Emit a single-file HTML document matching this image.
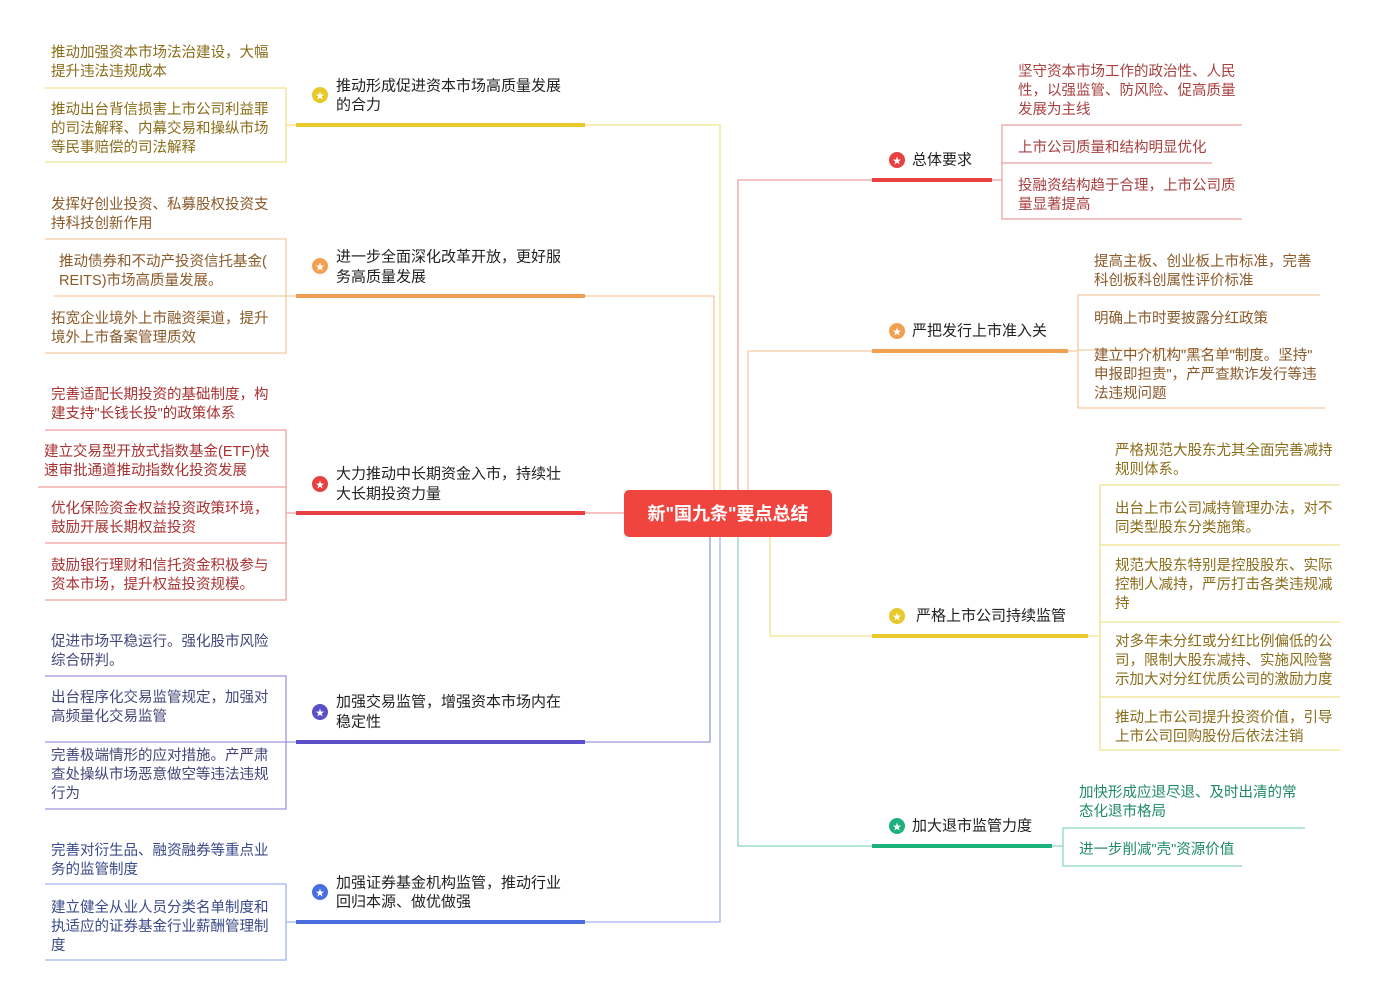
<!DOCTYPE html>
<html><head><meta charset="utf-8"><style>
html,body{margin:0;padding:0;background:#fff;}
svg{display:block;font-family:"Liberation Sans","Noto Sans CJK SC",sans-serif;}
text{dominant-baseline:central;}
.l{font-size:14.5px;}
.b{font-size:15px;fill:#222;}
</style></head><body>
<svg width="1379" height="1001" viewBox="0 0 1379 1001" xmlns="http://www.w3.org/2000/svg">
<rect width="1379" height="1001" fill="#fff"/>
<g fill="none" stroke-width="1.3">
<!-- left connectors -->
<path d="M585 125H720V490" stroke="#efe38a"/>
<path d="M585 296H714V490" stroke="#f3c9a0"/>
<path d="M585 513H624" stroke="#f0a0a0"/>
<path d="M585 742H710V537" stroke="#9a96d8"/>
<path d="M585 922H720V537" stroke="#a0b4ee"/>
<!-- right connectors -->
<path d="M738 490V180H872" stroke="#f0a0a0"/>
<path d="M748 490V351H872" stroke="#f3c9a0"/>
<path d="M770 537V636H872" stroke="#efe38a"/>
<path d="M738 537V846H872" stroke="#8ad8c0"/>
<!-- left brackets -->
<g stroke="#efe38a"><path d="M45 88H286V162H45M286 125H296"/></g>
<g stroke="#f3c9a0"><path d="M45 239H286V353H45M54 296H296"/></g>
<g stroke="#eda0a0"><path d="M45 430H286V600H45M38 487H286M45 543H286M286 513H296"/></g>
<g stroke="#9a96d8"><path d="M45 676H286V809H45M45 742H296"/></g>
<g stroke="#a0b4ee"><path d="M45 884H286V960H45M286 922H296"/></g>
<!-- right brackets -->
<g stroke="#eda0a0"><path d="M1242 125H1002V219H1242M1002 163H1212M992 180H1002"/></g>
<g stroke="#f3c9a0"><path d="M1320 295H1078V408H1325M1078 350H1258M1068 351H1078"/></g>
<g stroke="#efe38a"><path d="M1340 485H1100V750H1340M1100 545H1340M1100 622H1340M1100 697H1340M1088 636H1100"/></g>
<g stroke="#8ad8c0"><path d="M1305 828H1063V866H1242M1052 846H1063"/></g>
</g>
<!-- underlines -->
<g stroke-width="4">
<line x1="296" y1="125" x2="585" y2="125" stroke="#e8c82a"/>
<line x1="296" y1="296" x2="585" y2="296" stroke="#f0a050"/>
<line x1="296" y1="513" x2="585" y2="513" stroke="#e84040"/>
<line x1="296" y1="742" x2="585" y2="742" stroke="#5a4fc8"/>
<line x1="296" y1="922" x2="585" y2="922" stroke="#4a6ee0"/>
<line x1="872" y1="180" x2="992" y2="180" stroke="#e84040"/>
<line x1="872" y1="351" x2="1068" y2="351" stroke="#f0a050"/>
<line x1="872" y1="636" x2="1088" y2="636" stroke="#e8c82a"/>
<line x1="872" y1="846" x2="1052" y2="846" stroke="#1cb07a"/>
</g>
<!-- center -->
<rect x="624" y="490" width="208" height="47" rx="5" fill="#f0443e"/>
<text x="728" y="514" text-anchor="middle" fill="#fff" font-size="18" font-weight="bold">新"国九条"要点总结</text>
<!-- icons -->
<g font-size="9" fill="#fff" text-anchor="middle">
<circle cx="320" cy="95" r="8" fill="#e8c82a"/><text x="320" y="96">★</text>
<circle cx="320" cy="266" r="8" fill="#f0a050"/><text x="320" y="267">★</text>
<circle cx="320" cy="484" r="8" fill="#e84040"/><text x="320" y="485">★</text>
<circle cx="320" cy="712" r="8" fill="#5a4fc8"/><text x="320" y="713">★</text>
<circle cx="320" cy="892" r="8" fill="#4a6ee0"/><text x="320" y="893">★</text>
<circle cx="897" cy="160" r="8" fill="#e84040"/><text x="897" y="161">★</text>
<circle cx="897" cy="331" r="8" fill="#f0a050"/><text x="897" y="332">★</text>
<circle cx="897" cy="616" r="8" fill="#e8c82a"/><text x="897" y="617">★</text>
<circle cx="897" cy="826" r="8" fill="#1cb07a"/><text x="897" y="827">★</text>
</g>
<!-- branch labels -->
<g class="b">
<text x="336" y="86">推动形成促进资本市场高质量发展</text><text x="336" y="105">的合力</text>
<text x="336" y="257">进一步全面深化改革开放，更好服</text><text x="336" y="277">务高质量发展</text>
<text x="336" y="474">大力推动中长期资金入市，持续壮</text><text x="336" y="494">大长期投资力量</text>
<text x="336" y="702">加强交易监管，增强资本市场内在</text><text x="336" y="722">稳定性</text>
<text x="336" y="883">加强证券基金机构监管，推动行业</text><text x="336" y="902">回归本源、做优做强</text>
<text x="912" y="160">总体要求</text>
<text x="912" y="331">严把发行上市准入关</text>
<text x="916" y="616">严格上市公司持续监管</text>
<text x="912" y="826">加大退市监管力度</text>
</g>
<!-- leaves -->
<g class="l" fill="#8a6d1a">
<text x="51" y="53">推动加强资本市场法治建设，大幅</text><text x="51" y="72">提升违法违规成本</text>
<text x="51" y="110">推动出台背信损害上市公司利益罪</text><text x="51" y="129">的司法解释、内幕交易和操纵市场</text><text x="51" y="148">等民事赔偿的司法解释</text>
</g>
<g class="l" fill="#8a5a2a">
<text x="51" y="205">发挥好创业投资、私募股权投资支</text><text x="51" y="224">持科技创新作用</text>
<text x="59" y="262">推动债券和不动产投资信托基金(</text><text x="59" y="281">REITS)市场高质量发展。</text>
<text x="51" y="319">拓宽企业境外上市融资渠道，提升</text><text x="51" y="338">境外上市备案管理质效</text>
</g>
<g class="l" fill="#a83232">
<text x="51" y="395">完善适配长期投资的基础制度，构</text><text x="51" y="414">建支持"长钱长投"的政策体系</text>
<text x="44" y="452">建立交易型开放式指数基金(ETF)快</text><text x="44" y="471">速审批通道推动指数化投资发展</text>
<text x="51" y="509">优化保险资金权益投资政策环境，</text><text x="51" y="528">鼓励开展长期权益投资</text>
<text x="51" y="566">鼓励银行理财和信托资金积极参与</text><text x="51" y="585">资本市场，提升权益投资规模。</text>
</g>
<g class="l" fill="#45457a">
<text x="51" y="642">促进市场平稳运行。强化股市风险</text><text x="51" y="661">综合研判。</text>
<text x="51" y="698">出台程序化交易监管规定，加强对</text><text x="51" y="717">高频量化交易监管</text>
<text x="51" y="756">完善极端情形的应对措施。产严肃</text><text x="51" y="775">查处操纵市场恶意做空等违法违规</text><text x="51" y="794">行为</text>
</g>
<g class="l" fill="#3a4a8a">
<text x="51" y="851">完善对衍生品、融资融券等重点业</text><text x="51" y="870">务的监管制度</text>
<text x="51" y="908">建立健全从业人员分类名单制度和</text><text x="51" y="927">执适应的证券基金行业薪酬管理制</text><text x="51" y="946">度</text>
</g>
<g class="l" fill="#a84040">
<text x="1018" y="72">坚守资本市场工作的政治性、人民</text><text x="1018" y="91">性，以强监管、防风险、促高质量</text><text x="1018" y="110">发展为主线</text>
<text x="1018" y="148">上市公司质量和结构明显优化</text>
<text x="1018" y="186">投融资结构趋于合理，上市公司质</text><text x="1018" y="205">量显著提高</text>
</g>
<g class="l" fill="#8a5a2a">
<text x="1094" y="262">提高主板、创业板上市标准，完善</text><text x="1094" y="281">科创板科创属性评价标准</text>
<text x="1094" y="319">明确上市时要披露分红政策</text>
<text x="1094" y="356">建立中介机构"黑名单"制度。坚持"</text><text x="1094" y="375">申报即担责"，产严查欺诈发行等违</text><text x="1094" y="394">法违规问题</text>
</g>
<g class="l" fill="#8a6d1a">
<text x="1115" y="451">严格规范大股东尤其全面完善减持</text><text x="1115" y="470">规则体系。</text>
<text x="1115" y="509">出台上市公司减持管理办法，对不</text><text x="1115" y="528">同类型股东分类施策。</text>
<text x="1115" y="566">规范大股东特别是控股股东、实际</text><text x="1115" y="585">控制人减持，严厉打击各类违规减</text><text x="1115" y="604">持</text>
<text x="1115" y="642">对多年未分红或分红比例偏低的公</text><text x="1115" y="661">司，限制大股东减持、实施风险警</text><text x="1115" y="680">示加大对分红优质公司的激励力度</text>
<text x="1115" y="718">推动上市公司提升投资价值，引导</text><text x="1115" y="737">上市公司回购股份后依法注销</text>
</g>
<g class="l" fill="#1f8a6a">
<text x="1079" y="793">加快形成应退尽退、及时出清的常</text><text x="1079" y="812">态化退市格局</text>
<text x="1079" y="850">进一步削减"壳"资源价值</text>
</g>
</svg>
</body></html>
